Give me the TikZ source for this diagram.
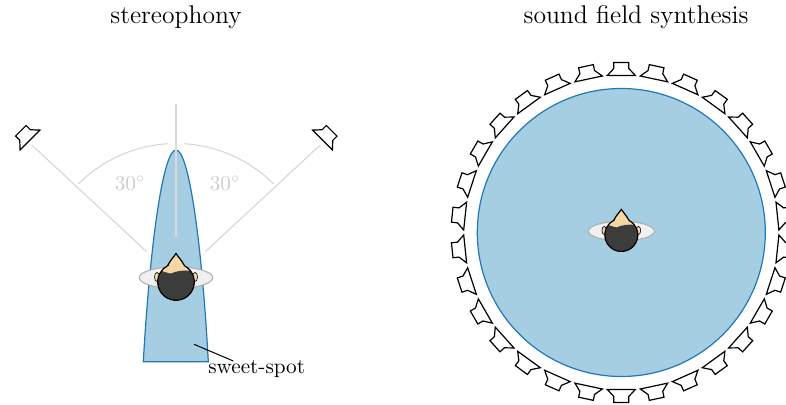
\documentclass[tikz,border=0pt]{standalone}
\usepackage{tikz}
\usetikzlibrary{calc}
\definecolor{spotfill}{HTML}{A6CEE3}
\definecolor{spotline}{HTML}{1F78B4}
\definecolor{skin}{HTML}{F5D7A6}
\definecolor{hair}{HTML}{3C3C3C}
\definecolor{guide}{HTML}{D9D9D9}

\tikzset{
  speaker/.pic={
    \draw[line width=0.6pt, fill=white] (-14,0) -- (-7.5,7) -- (-7.5,13) -- (7.5,13) -- (7.5,7) -- (14,0) -- cycle;
  },
  listener/.pic={
    % shoulders and ears
    \draw[draw=gray!65, fill=gray!12, line width=0.5pt] (0,4.3) ellipse[x radius=36.7, y radius=10.8];
    \draw[fill=skin, line width=0.3pt] (-19,5) ellipse[x radius=2.5, y radius=4.5];
    \draw[fill=skin, line width=0.3pt] (19,5) ellipse[x radius=2.5, y radius=4.5];
    % face, hair, outline
    \fill[skin] (118:18.3) .. controls (-5.5,22) and (-1.5,26) .. (0,28.5) .. controls (1.5,26) and (5.5,22) .. (62:18.3) arc[start angle=62, end angle=-242, radius=18.3] -- cycle;
    \fill[hair] (143:18.3) .. controls (-11,10) and (-7,8.5) .. (-5,8.5) .. controls (0,11) and (8,12) .. (38:18.3) arc[start angle=38, end angle=-217, radius=18.3] -- cycle;
    \draw[line width=0.6pt] (118:18.3) .. controls (-5.5,22) and (-1.5,26) .. (0,28.5) .. controls (1.5,26) and (5.5,22) .. (62:18.3) arc[start angle=62, end angle=-242, radius=18.3] -- cycle;
  },
}

\begin{document}
\begin{tikzpicture}[x=0.5pt, y=0.5pt,
    title/.style={font=\fontsize{12.8}{15}\selectfont, anchor=base},
    angletext/.style={font=\fontsize{10.6}{12}\selectfont, text=gray!40},
    spottext/.style={font=\fontsize{10.6}{12}\selectfont, anchor=base},
    guideline/.style={draw=guide, line width=0.6pt},
    spot/.style={fill=spotfill, draw=spotline, line width=0.6pt},
]
    \useasboundingbox (0,0) rectangle (786,405);
    \clip (0,0) rectangle (786,405);

    % Titles
    \node[title] (stereo) at (176,381.7) {stereophony};
    \node[title] (sfs) at (636,381.7) {sound field synthesis};

    % Stereophony: two loudspeakers
    \pic[rotate=45] (spkL) at (30,265) {speaker};
    \pic[rotate=-45] (spkR) at (322.5,265) {speaker};
    \coordinate (rayLa) at (31.7,260);
    \coordinate (rayLb) at (146.7,153.3);
    \coordinate (rayRa) at (320.3,260);
    \coordinate (rayRb) at (205.3,153.3);
    \draw[guideline] (rayLa) -- (rayLb);
    \draw[guideline] (rayRa) -- (rayRb);
    % 30 degree arcs
    \coordinate (arcC) at (176,123.5);
    \draw[guideline] (arcC) ++(45:138) arc[start angle=45, end angle=86.5, radius=138];
    \draw[guideline] (arcC) ++(93.5:138) arc[start angle=93.5, end angle=135, radius=138];
    \node[angletext] (angL) at (130,221.7) {30$^\circ$};
    \node[angletext] (angR) at (225,221.7) {30$^\circ$};

    % Sweet-spot
    \draw[spot] (143.3,43.3) .. controls (150,160) and (163,255) .. (176,255)
        .. controls (189,255) and (202,160) .. (208.3,43.3) -- cycle;
    \coordinate (axisTop) at (176,301);
    \coordinate (axisBot) at (176,168.3);
    \draw[guideline] (axisTop) -- (axisBot);
    \pic (lst1) at (176,123) {listener};
    \coordinate (spotin) at (194,60.7);
    \coordinate (spotend) at (233.3,44);
    \draw[line width=0.5pt] (spotin) -- (spotend);
    \node[spottext] (spotlbl) at (256.7,31) {sweet-spot};

    % Sound field synthesis: ring of 30 loudspeakers
    \coordinate (C) at (621.3,172.5);
    \draw[spot] (C) circle[radius=144];
    \foreach \a in {6,18,...,354} {
        \pic[rotate=\a-90] at ($(C)+(\a:157)$) {speaker};
    }
    \pic[scale=0.9] (lst2) at (621.3,170) {listener};
\end{tikzpicture}
\end{document}
